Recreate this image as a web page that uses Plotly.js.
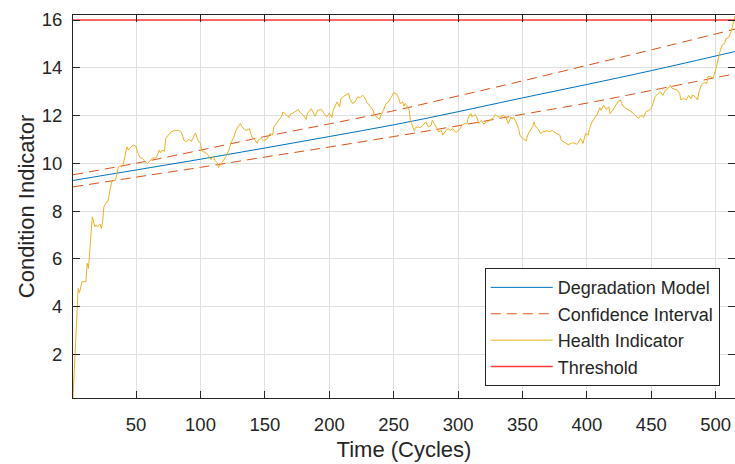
<!DOCTYPE html>
<html>
<head>
<meta charset="utf-8">
<script src="https://cdn.plot.ly/plotly-3.0.1.min.js"></script>
<style>html,body{margin:0;padding:0;background:#fff;}#chart{width:735px;height:464px;}</style>
</head>
<body>
<div id="chart"></div>
<script>
// Degradation model (sampled)
const modelT = [1, 50, 100, 150, 200, 250, 300, 350, 400, 450, 515];
const modelY = [9.28, 9.72, 10.17, 10.64, 11.12, 11.61, 12.16, 12.74, 13.30, 13.88, 14.68];
const ciUpperY = [9.52, 10.0, 10.55, 11.12, 11.65, 12.2, 12.82, 13.45, 14.1, 14.75, 15.62];
const ciLowerY = [9.01, 9.42, 9.83, 10.26, 10.68, 11.12, 11.57, 12.05, 12.52, 13.05, 13.75];

// Health indicator
const hiT = [1,5,6,8,11,12,13,14,16,18,19,20,22,23,24,25,27,28,30,31,33,34,36,37,39,40,42,43,44,46,48,50,51,53,55,57,59,61,63,64,66,68,69,70,72,73,75,77,80,83,85,86,87,89,91,93,94,96,98,100,101,103,105,107,108,110,111,113,114,115,117,119,120,122,124,126,127,129,131,132,134,136,138,139,140,142,144,145,147,149,151,152,154,156,157,159,161,163,164,167,169,170,171,173,176,177,180,182,183,186,188,189,191,194,196,198,200,202,203,204,206,208,209,211,213,215,216,218,220,222,224,226,228,229,231,234,235,237,239,240,242,244,246,248,250,252,254,255,257,258,259,260,262,263,265,266,267,269,271,273,275,277,279,280,282,284,285,287,288,291,292,294,296,298,299,301,303,305,307,308,310,311,313,315,316,318,320,322,323,325,327,329,331,333,335,337,339,341,342,343,345,347,348,350,353,354,356,358,359,360,362,364,366,369,371,373,374,377,379,380,382,384,386,387,389,392,393,395,396,397,399,401,402,404,406,408,410,411,413,415,417,418,420,422,424,426,428,430,432,435,437,440,442,444,446,448,450,451,453,455,457,459,461,463,465,466,468,470,472,473,475,477,479,481,482,484,486,487,489,491,493,494,496,498,500,501,503,505,507,508,510,512,513,515];
const hiY = [0.17,4.76,4.58,5.04,5.04,5.81,5.6,6.23,7.76,7.34,7.42,7.34,7.45,7.27,7.55,8.18,8.38,8.38,8.87,9.22,9.29,9.29,9.78,9.88,9.9,9.95,10.48,10.69,10.55,10.69,10.76,10.7,10.48,10.24,10.2,10.06,9.99,10.13,10.24,10.2,10.27,10.55,10.44,10.55,10.5,11.04,11.18,11.31,11.38,11.38,11.3,11.18,10.97,10.9,11.0,10.92,11.04,11.27,10.97,10.83,10.52,10.45,10.41,10.24,10.16,10.3,10.13,10.02,9.82,9.9,10.06,10.2,10.3,10.55,10.9,11.1,11.31,11.52,11.66,11.55,11.41,11.38,11.45,11.25,11.1,11.0,10.83,10.97,11.04,10.94,11.0,11.04,11.25,11.18,11.52,11.66,11.8,11.97,12.15,12.0,11.92,12.08,12.08,12.15,12.25,12.15,12.01,11.83,12.08,12.29,12.08,11.97,12.22,12.25,12.08,11.94,12.1,11.92,12.22,12.36,12.57,12.36,12.71,12.8,12.85,12.92,12.71,12.5,12.57,12.78,12.75,12.85,12.71,12.57,12.43,12.22,12.01,11.94,11.83,12.01,12.22,12.5,12.57,12.78,12.95,12.92,12.71,12.5,12.57,12.39,12.5,12.43,12.22,11.8,11.55,11.36,11.5,11.52,11.5,11.64,11.73,11.52,11.59,11.8,11.59,11.38,11.31,11.38,11.18,11.38,11.45,11.38,11.45,11.31,11.31,11.41,11.59,11.66,11.66,11.94,12.08,11.94,12.05,11.87,11.66,11.8,11.64,11.73,11.73,11.83,11.87,12.05,11.94,11.94,12.01,11.94,11.66,11.94,11.85,11.94,11.73,11.45,11.18,11.04,10.94,11.18,11.38,11.55,11.73,11.55,11.45,11.25,11.32,11.36,11.32,11.38,11.32,11.25,11.18,10.97,10.9,10.86,10.76,10.83,10.86,10.8,10.83,11.04,10.97,10.83,11.25,11.18,11.45,11.73,11.87,12.05,12.33,12.22,12.43,12.26,12.36,12.08,12.22,12.4,12.57,12.65,12.4,12.31,12.24,12.14,12.03,11.89,12.0,11.92,12.17,12.2,12.31,12.44,12.8,12.89,13.0,12.84,13.07,13.14,13.28,13.14,13.11,13.07,12.93,12.65,12.72,12.65,12.84,12.7,12.86,12.79,12.65,13.0,13.28,13.38,13.34,13.63,13.63,13.56,13.91,14.19,14.61,14.95,15.02,15.23,15.26,15.51,15.72,16.15];

// Threshold
const thrT = [1, 515];
const thrY = [16, 16];

const xTicks = [50, 100, 150, 200, 250, 300, 350, 400, 450, 500];
const yTicks = [2, 4, 6, 8, 10, 12, 14, 16];

const FONT = 'Liberation Sans, Arial, Helvetica, sans-serif';
const TXT = '#262626';

const traces = [
  {x: modelT, y: modelY, name: 'Degradation Model', mode: 'lines', line: {color: '#0072BD', width: 1, shape: 'spline'}},
  {x: modelT, y: ciUpperY, name: 'Confidence Interval', mode: 'lines', line: {color: '#D95319', width: 1, dash: '10px,6px', shape: 'spline'}},
  {x: modelT, y: ciLowerY, name: 'Confidence Interval', showlegend: false, mode: 'lines', line: {color: '#D95319', width: 1, dash: '10px,6px', shape: 'spline'}},
  {x: hiT, y: hiY, name: 'Health Indicator', mode: 'lines', line: {color: '#EDB120', width: 1}},
  {x: thrT, y: thrY, name: 'Threshold', mode: 'lines', line: {color: '#FF3A3A', width: 1.5}}
];

const axisCommon = {
  showline: true, linecolor: TXT, linewidth: 1, mirror: 'ticks',
  ticks: 'inside', ticklen: 7, tickcolor: TXT, tickwidth: 1,
  showgrid: true, gridcolor: '#DFDFDF', gridwidth: 1,
  zeroline: false,
  tickfont: {family: FONT, size: 18.5, color: TXT}
};

const layout = {
  width: 735, height: 464,
  margin: {l: 73, r: 0, t: 15, b: 66},
  paper_bgcolor: '#fff', plot_bgcolor: '#fff',
  showlegend: true,
  xaxis: Object.assign({}, axisCommon, {
    range: [1, 515], tickvals: xTicks, ticktext: xTicks.map(String),
    ticklabelstandoff: 10,
    title: {text: 'Time (Cycles)', font: {family: FONT, size: 22, color: TXT}, standoff: 7}
  }),
  yaxis: Object.assign({}, axisCommon, {
    range: [0.17, 16.21], tickvals: yTicks, ticktext: yTicks.map(String),
    ticklabelstandoff: 6,
    title: {text: 'Condition Indicator', font: {family: FONT, size: 22, color: TXT}, standoff: 1}
  }),
  legend: {
    x: 0.622, y: 0.339, xanchor: 'left', yanchor: 'top',
    bgcolor: '#fff', bordercolor: TXT, borderwidth: 1,
    font: {family: FONT, size: 18, color: TXT},
    itemwidth: 62, tracegroupgap: 0
  }
};

Plotly.newPlot('chart', traces, layout, {displayModeBar: false, staticPlot: true});
</script>
</body>
</html>
